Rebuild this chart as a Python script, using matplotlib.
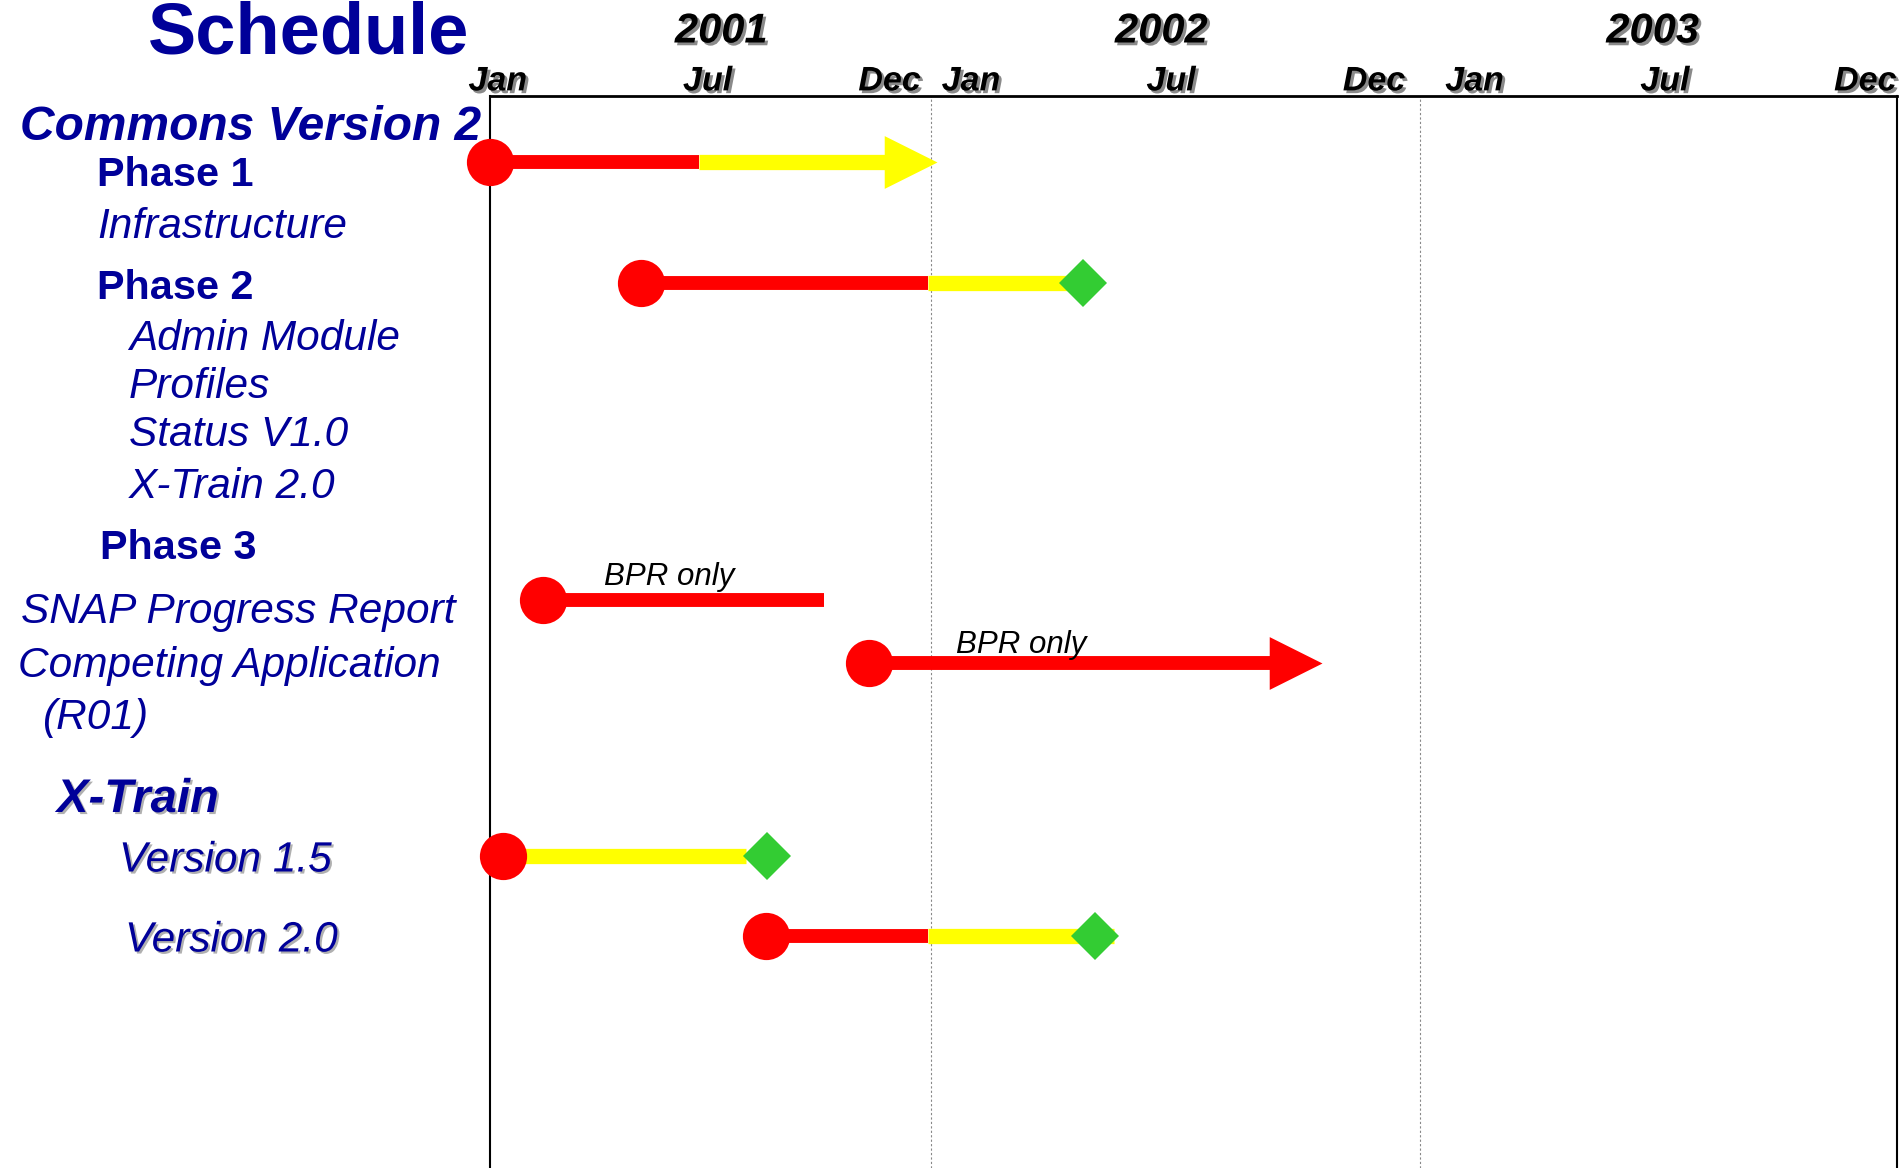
import numpy as np
import matplotlib
matplotlib.use("Agg")
import matplotlib.pyplot as plt
import matplotlib.patheffects as pe
from matplotlib.path import Path

plt.rcParams['font.family'] = ['Liberation Sans', 'DejaVu Sans']

# ---------------- data ----------------
tasks = ["Phase 1", "Phase 2", "SNAP Progress Report",
         "Competing Application", "Version 1.5", "Version 2.0"]
start = [0.0, 4.1, 1.45, 10.3, 0.35, 7.5]            # months from Jan 2001
red_end = [5.7, 11.92, 9.1, 21.6, 0.35, 11.92]
finish = [12.15, 15.4, 9.1, 21.6, 6.97, 16.5]
milestone = [np.nan, 15.72, np.nan, np.nan, 7.55, 16.02]
arrow_end = [True, False, False, True, False, False]
notes = ["", "", "BPR only", "BPR only", "", ""]

years = ["2001", "2002", "2003"]
year_bounds = [0, 12, 24, 36]
month_labels = ["Jan", "Jul", "Dec", "Jan", "Jul", "Dec", "Jan", "Jul", "Dec"]
month_ticks = [0.21, 5.92, 10.87, 12.98, 17.89, 22.87, 25.37, 30.16, 35.2]
year_centers = [6.29, 17.65, 29.85]

# ---------------- layout ----------------
W, H = 1903, 1168
NAVY = '#000099'
RED, YELLOW, GREEN = '#FF0000', '#FFFF00', '#33CC33'
row_y = [162, 283, 600, 663, 856, 936]          # pixel rows from top
note_offset = [(0, 0), (0, 0), (61, 27), (87, 22)]
year_px = [0, 441, 930, 1407]                    # drawn width of each year block

left_labels = [
    ("Commons Version 2", 20, 123, 'bold', 'italic', 34.5, False),
    ("Phase 1", 97, 171, 'bold', 'normal', 29.8, False),
    ("Infrastructure", 97, 222, 'normal', 'italic', 30.5, False),
    ("Phase 2", 97, 284, 'bold', 'normal', 29.8, False),
    ("Admin Module", 129, 334, 'normal', 'italic', 30.5, False),
    ("Profiles", 129, 382, 'normal', 'italic', 30.5, False),
    ("Status V1.0", 129, 430, 'normal', 'italic', 30.5, False),
    ("X-Train 2.0", 129, 482, 'normal', 'italic', 30.5, False),
    ("Phase 3", 100, 544, 'bold', 'normal', 29.8, False),
    ("SNAP Progress Report", 21, 607, 'normal', 'italic', 30.5, False),
    ("Competing Application", 18, 662, 'normal', 'italic', 30.5, False),
    ("(R01)", 42, 713, 'normal', 'italic', 30.5, False),
    ("X-Train", 57, 795, 'bold', 'italic', 34, True),
    ("Version 1.5", 119, 856, 'normal', 'italic', 30.5, True),
    ("Version 2.0", 125, 936, 'normal', 'italic', 30.5, True),
]

shadow = [pe.SimplePatchShadow(offset=(2, -2), shadow_rgbFace='#8a8a8a', alpha=1.0),
          pe.Normal()]
light_shadow = [pe.SimplePatchShadow(offset=(1.5, -1.5), shadow_rgbFace='#b0b0b0', alpha=1.0),
                pe.Normal()]

fig = plt.figure(figsize=(W / 100, H / 100), dpi=100)
ax_left, ax_right, ax_top = 490, 1897, 96
ax = fig.add_axes([ax_left / W, 0, (ax_right - ax_left) / W, 1 - ax_top / H])


def fwd(m):
    return np.interp(m, year_bounds, year_px)


def inv(p):
    return np.interp(p, year_px, year_bounds)


ax.set_xscale('function', functions=(fwd, inv))
ax.set_xlim(0, 36)
ax.set_ylim(H, ax_top)

# spines
ax.spines['bottom'].set_visible(False)
for s in ('left', 'right'):
    ax.spines[s].set_linewidth(1.5)
ax.spines['top'].set_linewidth(2)
ax.spines['top'].set_path_effects(light_shadow)
ax.set_yticks([])

# year separators
for b in year_bounds[1:-1]:
    ax.axvline(b, color='#888888', lw=0.8, ls=(0, (2, 2)), zorder=1)

# month labels on top axis
ax.xaxis.tick_top()
ax.set_xticks(month_ticks, month_labels, fontsize=24.5, fontweight='bold',
              fontstyle='italic', path_effects=shadow)
ax.tick_params(axis='x', length=0, pad=-1)
ax.xaxis.set_minor_locator(matplotlib.ticker.NullLocator())

# years
for yr, xc in zip(years, year_centers):
    ax.text(xc, 27, yr, ha='center', va='center_baseline', fontsize=30,
            fontweight='bold', fontstyle='italic', path_effects=shadow, clip_on=False)

# title
fig.text(309 / W, 1 - 53 / H, "Schedule", ha='center', va='baseline', fontsize=52,
         fontweight='bold', color=NAVY)

# left labels
for txt, x, y, fw, fs, size, sh in left_labels:
    fig.text(x / W, 1 - y / H, txt, ha='left', va='center_baseline', fontsize=size,
             fontweight=fw, fontstyle=fs, color=NAVY,
             path_effects=light_shadow if sh else None)

# bars
head = Path([(0, 0), (-1, 0.5), (-1, -0.5), (0, 0)],
            [Path.MOVETO, Path.LINETO, Path.LINETO, Path.CLOSEPOLY])
for i in range(len(tasks)):
    y = row_y[i]
    end_line = finish[i] - 0.8 if arrow_end[i] else finish[i]
    if red_end[i] > start[i]:
        ax.plot([start[i], min(red_end[i], end_line)], [y, y], color=RED, lw=10,
                solid_capstyle='butt', zorder=2, clip_on=False)
    if end_line > red_end[i]:
        ax.plot([red_end[i], end_line], [y, y], color=YELLOW, lw=11,
                solid_capstyle='butt', zorder=2, clip_on=False)
    if arrow_end[i]:
        col = YELLOW if finish[i] > red_end[i] else RED
        ax.plot([finish[i]], [y], marker=head, ms=76, color=col, mew=0,
                zorder=3, clip_on=False)
    ax.plot([start[i]], [y], marker='o', ms=34, color=RED, mew=0, zorder=4,
            clip_on=False)
    if not np.isnan(milestone[i]):
        ax.plot([milestone[i]], [y], marker='D', ms=24.5, color=GREEN, mew=0,
                zorder=5, clip_on=False)
    if notes[i]:
        ax.annotate(notes[i], xy=(start[i], y), xytext=note_offset[i],
                    textcoords='offset pixels', ha='left', va='center_baseline',
                    fontsize=22.5, fontstyle='italic', color='black', zorder=6)

fig.savefig('out.png', dpi=100)
